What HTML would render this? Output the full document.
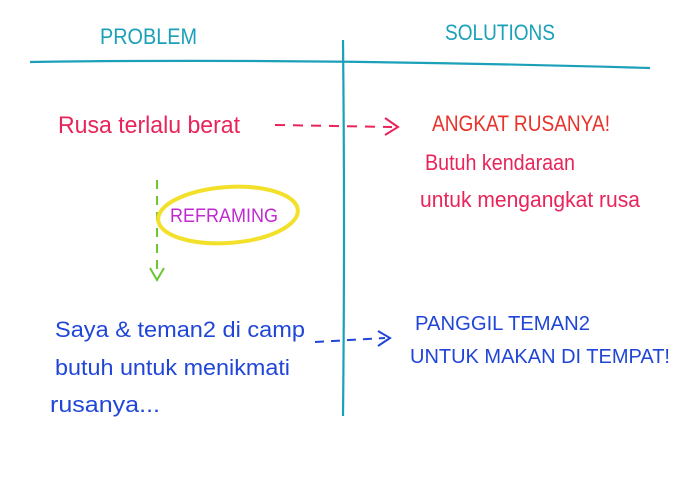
<!DOCTYPE html>
<html><head><meta charset="utf-8"><style>
html,body{margin:0;padding:0;background:#fff;}
svg{display:block;}
text{font-family:"Liberation Sans Narrow","Liberation Sans",sans-serif;}
</style></head><body>
<svg width="700" height="489" viewBox="0 0 700 489" xmlns="http://www.w3.org/2000/svg">
<rect width="700" height="489" fill="#fff"/>
<!-- grid lines -->
<path d="M30 62 Q300 58 650 68" stroke="#1aa0b8" stroke-width="2.2" fill="none"/>
<path d="M343 40 Q345 230 343 416" stroke="#1aa0b8" stroke-width="2.2" fill="none"/>
<text x="100" y="44" fill="#1aa0b8" font-size="22" textLength="97" lengthAdjust="spacingAndGlyphs">PROBLEM</text>
<text x="445" y="40" fill="#1aa0b8" font-size="22" textLength="110" lengthAdjust="spacingAndGlyphs">SOLUTIONS</text>

<!-- top row -->
<text x="58" y="133" fill="#e8245a" font-size="24" textLength="182" lengthAdjust="spacingAndGlyphs">Rusa terlalu berat</text>
<path d="M275 125 L392 127" stroke="#e8245a" stroke-width="2" stroke-dasharray="10 8" fill="none"/>
<path d="M385 118 L398 127 L385 135" stroke="#e8245a" stroke-width="2" fill="none"/>
<text x="432" y="131" fill="#e8322a" font-size="22" textLength="178" lengthAdjust="spacingAndGlyphs">ANGKAT RUSANYA!</text>
<text x="425" y="170" fill="#e8245a" font-size="22" textLength="150" lengthAdjust="spacingAndGlyphs">Butuh kendaraan</text>
<text x="420" y="207" fill="#e8245a" font-size="22" textLength="220" lengthAdjust="spacingAndGlyphs">untuk mengangkat rusa</text>

<!-- reframing -->
<path d="M157 180 L157 276" stroke="#6cc630" stroke-width="2" stroke-dasharray="9 7" fill="none"/>
<path d="M150 268 L157 280 L164 268" stroke="#6cc630" stroke-width="2" fill="none"/>
<ellipse cx="228" cy="215" rx="70" ry="28" stroke="#f2e02a" stroke-width="4" fill="none" transform="rotate(-4 228 215)"/>
<text x="170" y="222" fill="#c02ad0" font-size="19" textLength="108" lengthAdjust="spacingAndGlyphs">REFRAMING</text>

<!-- bottom row -->
<text x="55" y="337" fill="#2046d8" font-size="22" textLength="250" lengthAdjust="spacingAndGlyphs">Saya &amp; teman2 di camp</text>
<text x="55" y="375" fill="#2046d8" font-size="22" textLength="235" lengthAdjust="spacingAndGlyphs">butuh untuk menikmati</text>
<text x="50" y="412" fill="#2046d8" font-size="22" textLength="110" lengthAdjust="spacingAndGlyphs">rusanya...</text>
<path d="M315 342 L385 338" stroke="#2046d8" stroke-width="2" stroke-dasharray="9 7" fill="none"/>
<path d="M378 331 L390 338 L378 346" stroke="#2046d8" stroke-width="2" fill="none"/>
<text x="415" y="330" fill="#2046d8" font-size="20" textLength="175" lengthAdjust="spacingAndGlyphs">PANGGIL TEMAN2</text>
<text x="410" y="363" fill="#2046d8" font-size="20" textLength="260" lengthAdjust="spacingAndGlyphs">UNTUK MAKAN DI TEMPAT!</text>
</svg>
</body></html>
